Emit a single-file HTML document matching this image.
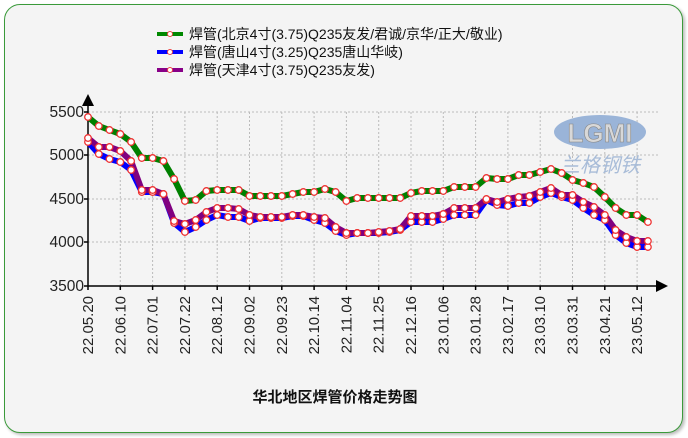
<!DOCTYPE html>
<html><head><meta charset="utf-8"><style>
html,body{margin:0;padding:0;background:#fff;}
body{width:688px;height:438px;overflow:hidden;position:relative;font-family:"Liberation Sans","Noto Sans CJK SC",sans-serif;}
#box{position:absolute;left:4px;top:4px;width:677px;height:427px;border:1.5px solid #3a9a3a;border-radius:16px;background:#f4f4f4;box-shadow:2px 2px 3px #bbb;}
svg{position:absolute;left:0;top:0;}
</style></head><body>
<div id="box"></div>
<svg id="s" width="688" height="438" xmlns="http://www.w3.org/2000/svg" font-family="Liberation Sans, Noto Sans CJK SC, sans-serif">
<g id="grid" stroke="#bbb" stroke-dasharray="2,2" stroke-width="1"></g>
<g id="wm">
<ellipse cx="600" cy="132" rx="46" ry="17" fill="#9ab4d8"/>
<text x="600" y="142" text-anchor="middle" font-size="26" font-weight="bold" fill="#d8d8d8" stroke="#888" stroke-width="0.6">LGMI</text>
<text x="600" y="172" text-anchor="middle" font-size="20" font-style="italic" fill="#a8bcd8" font-family="Noto Sans CJK SC, sans-serif">兰格钢铁</text>
</g>
<g id="ax" stroke="#000" stroke-width="1.5">
<line x1="88" y1="100" x2="88" y2="286"/>
<line x1="88" y1="286" x2="660" y2="286"/>
</g>
<polygon points="88,94 82,106 94,106" fill="#000"/>
<polygon points="668,286 656,280 656,292" fill="#000"/>
<g id="yl" font-size="15.5" fill="#222" text-anchor="end"></g>
<g id="xl" font-size="15" fill="#222" text-anchor="end"></g>
<g id="ser"></g>
<g font-size="14" fill="#111" font-family="Liberation Sans, Noto Sans CJK SC, sans-serif">
<line x1="157" y1="34" x2="183" y2="34" stroke="#080" stroke-width="4"/><circle cx="170" cy="34" r="2.5" fill="#fff" stroke="#e44"/>
<text x="189" y="39">焊管(北京4寸(3.75)Q235友发/君诚/京华/正大/敬业)</text>
<line x1="157" y1="52" x2="183" y2="52" stroke="#00f" stroke-width="4"/><circle cx="170" cy="52" r="2.5" fill="#fff" stroke="#e44"/>
<text x="189" y="57">焊管(唐山4寸(3.25)Q235唐山华岐)</text>
<line x1="157" y1="70" x2="183" y2="70" stroke="#808" stroke-width="4"/><circle cx="170" cy="70" r="2.5" fill="#fff" stroke="#e44"/>
<text x="189" y="75">焊管(天津4寸(3.75)Q235友发)</text>
</g>
<text x="335" y="402" text-anchor="middle" font-size="15" font-weight="bold" fill="#111">华北地区焊管价格走势图</text>
</svg>
<script>
var NS="http://www.w3.org/2000/svg";
function el(p,t,a,txt){var e=document.createElementNS(NS,t);for(var k in a)e.setAttribute(k,a[k]);if(txt)e.textContent=txt;document.getElementById(p).appendChild(e);return e;}
var ys=[[5500,112],[5000,155],[4500,199],[4000,242],[3500,286]];
ys.forEach(function(v){ if(v[0]>3500) el("grid","line",{x1:88,y1:v[1],x2:660,y2:v[1]}); el("yl","text",{x:84,y:v[1]+5},String(v[0])); el("ax","line",{x1:84,y1:v[1],x2:88,y2:v[1]});});
var labs=["22.05.20","22.06.10","22.07.01","22.07.22","22.08.12","22.09.02","22.09.23","22.10.14","22.11.04","22.11.25","22.12.16","23.01.06","23.01.28","23.02.17","23.03.10","23.03.31","23.04.21","23.05.12"];
var sp=32.3;
labs.forEach(function(l,i){var x=88+i*sp; if(i>0) el("grid","line",{x1:x,y1:112,x2:x,y2:286}); el("ax","line",{x1:x,y1:286,x2:x,y2:290});
 el("xl","text",{transform:"translate("+(x+5)+",296) rotate(-90)"},l);});
var g=[117,126,130,134,142,158,158,161,179,201,200,191,190,190,190,196,196,196,196,194,192,192,189,192,201,198,198,198,198,198,193,191,191,191,187,187,187,178,179,179,175,175,172,169,173,180,183,187,197,208,215,215,222];
var p=[138,147,147,151,161,190,190,194,221,224,220,212,208,208,209,215,217,217,217,215,215,217,218,227,233,233,233,232,231,229,216,216,216,214,208,208,208,199,202,199,197,196,192,188,195,195,202,207,215,230,237,241,241];
var b=[142,154,159,162,170,192,192,194,223,232,227,220,215,217,217,221,218,218,218,216,216,220,223,231,235,233,233,233,232,230,222,222,222,219,215,215,215,200,205,206,203,203,197,193,197,200,208,215,220,235,243,247,247];
var dx=sp/3;
function draw(arr,col){var pts=arr.map(function(y,i){return (88+i*dx).toFixed(1)+","+y;}).join(" ");
 el("ser","polyline",{points:pts,fill:"none",stroke:col,"stroke-width":6,"stroke-linejoin":"round","stroke-linecap":"round"});}
function marks(arr){arr.forEach(function(y,i){el("ser","circle",{cx:(88+i*dx).toFixed(1),cy:y,r:3.3,fill:"#fff",stroke:"#e33","stroke-width":1.3});});}
draw(b,"#0000ff");draw(p,"#800080");draw(g,"#008000");
marks(b);marks(p);marks(g);
</script>
</body></html>
